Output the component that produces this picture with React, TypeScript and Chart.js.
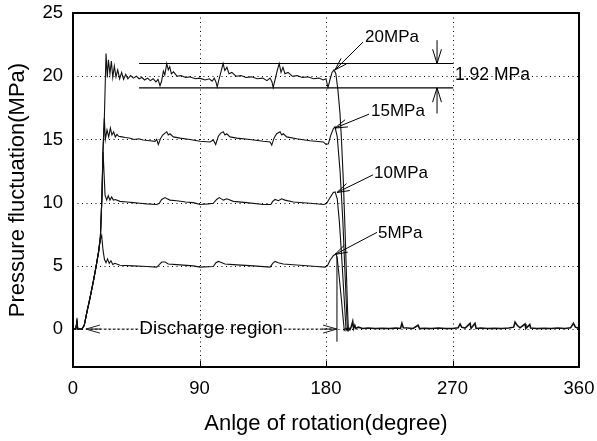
import React, { useEffect, useRef } from 'react';
import { Chart, registerables } from 'chart.js';

Chart.register(...registerables);

const FONT = '"Liberation Sans", Arial, Helvetica, sans-serif';

// ---- axes ----
const X_TICKS = [0, 90, 180, 270, 360];
const Y_TICKS = [0, 5, 10, 15, 20, 25];
const X_GRID = [90, 180, 270];
const Y_GRID = [0, 5, 10, 15, 20];
const X_TITLE = 'Anlge of rotation(degree)';
const Y_TITLE = 'Pressure fluctuation(MPa)';

// ---- series: [angle (degree), pressure (MPa)] ----
const CURVE_20MPA: [number, number][] = [
  [0, 0], [2, 0], [2.8, 0.6], [3.4, 0], [6.4, 0], [8, 0.3], [10, 1.4], [12, 2.4], [14.5, 3.8], [16.5, 5.0],
  [18.2, 6.1], [19.5, 7.3], [20.6, 10.5], [21.3, 14.0], [22.3, 16.7], [23.5, 21.8], [24.4, 19.9], [25.2, 21.3],
  [26.3, 20.2], [27.3, 21.2], [28.3, 19.9], [29.4, 20.8], [30.6, 19.95], [31.8, 20.5], [33.2, 19.8], [34.6, 20.3],
  [36, 19.75], [37.5, 20.15], [39, 19.8], [41, 20.05], [43, 19.85], [45, 20.0], [47, 19.8], [49, 19.9], [51, 19.7],
  [53, 19.85], [55, 19.65], [57, 19.8], [59, 19.55], [60.5, 19.75], [61.9, 19.25], [63, 19.6], [64.3, 20.4],
  [65.3, 20.1], [66.7, 21.0], [67.8, 20.5], [68.8, 20.75], [70, 20.2], [71.5, 20.35], [74, 20.0], [77, 20.05],
  [80, 19.9], [83, 19.95], [87, 19.8], [90, 19.85], [94, 19.7], [97, 19.8], [99, 19.6], [100.5, 19.85],
  [101.7, 19.55], [102.6, 19.15], [104, 19.8], [105.4, 20.4], [106.8, 21.0], [108, 20.45], [109.5, 20.7],
  [111, 20.2], [113, 20.3], [116, 20.0], [119.5, 20.05], [123, 19.9], [127, 19.95], [131, 19.8], [135, 19.85],
  [138, 19.65], [140.2, 19.85], [141.6, 19.55], [142.4, 19.1], [143.8, 19.75], [145.2, 20.4], [146.7, 21.0],
  [148, 20.3], [149.4, 20.7], [150.8, 20.2], [153, 20.3], [156, 20.0], [159.5, 20.05], [163, 19.9], [167, 19.95],
  [171, 19.8], [175, 19.85], [178, 19.7], [180, 19.8], [181.4, 19.1], [183, 19.8], [184.3, 20.3], [185.7, 20.5],
  [187, 20.2], [188.5, 18.9], [190, 17], [191, 15], [192.3, 11.8], [193.5, 8], [194.5, 4.5], [195.5, 1],
  [196, -0.1], [197, 0.1],
];

const CURVE_15MPA: [number, number][] = [
  [0, 0], [2, 0], [2.8, 0.6], [3.4, 0], [6.4, 0], [8, 0.3], [10, 1.4], [12, 2.4], [14.5, 3.8], [16.5, 5.0],
  [18.2, 6.1], [19.5, 7.3], [20.6, 10.5], [21.3, 14.0], [22.3, 16.7], [23, 15.0], [24.2, 15.75], [25.4, 15.2],
  [26.6, 15.9], [27.7, 15.35], [28.9, 15.6], [30.1, 15.2], [31.3, 15.4], [32.5, 15.25], [34.9, 15.2], [37.2, 15.15],
  [40.8, 15.1], [43.5, 15.0], [46.7, 15.05], [50, 14.95], [54.8, 14.9], [58.3, 14.85], [59.5, 15.0], [60.7, 14.6],
  [62.4, 15.1], [63.8, 15.35], [65.5, 15.5], [66.7, 15.6], [67.8, 15.35], [69, 15.45], [71.4, 15.2], [76.1, 15.1],
  [83.2, 15.0], [90.4, 14.85], [97.5, 14.8], [99.8, 14.95], [101.5, 14.6], [103.4, 15.25], [105.1, 15.5],
  [106.9, 15.6], [108.1, 15.35], [109.4, 15.45], [111.7, 15.2], [116.5, 15.1], [125.9, 15.0], [135.4, 14.85],
  [140.2, 14.8], [141.4, 14.55], [143, 15.1], [144.9, 15.45], [147.3, 15.6], [148.5, 15.35], [149.6, 15.45],
  [152, 15.2], [159.2, 15.05], [168.6, 14.9], [178.1, 14.8], [180, 14.6], [181.7, 14.65], [183.3, 15.3],
  [185.2, 15.85], [186.4, 16.0], [188, 15.2], [190, 12.5], [192, 8.5], [193.5, 4.5], [194.8, 1], [195.3, -0.1],
  [196.5, 0.1],
];

const CURVE_10MPA: [number, number][] = [
  [0, 0], [2, 0], [2.8, 0.6], [3.4, 0], [6.4, 0], [8, 0.3], [10, 1.4], [12, 2.4], [14.5, 3.8], [16.5, 5.0],
  [18.2, 6.1], [19.5, 7.3], [20.6, 10.5], [21.4, 14.0], [22.8, 10.6], [24, 10.2], [25.1, 10.55], [26.3, 10.2],
  [27.5, 10.45], [28.7, 10.2], [30.1, 10.25], [33.4, 10.1], [38.2, 10.05], [43, 10.0], [47.7, 9.95], [52.4, 9.9],
  [59.5, 9.85], [61.4, 9.95], [63.1, 10.25], [65.5, 10.4], [67, 10.3], [69, 10.2], [73.8, 10.15], [80, 10.05],
  [85.6, 10.0], [90.4, 9.85], [96, 9.9], [99.8, 9.95], [102.2, 10.25], [104.1, 10.4], [105.5, 10.3], [107, 10.2],
  [109.4, 10.3], [114.1, 10.1], [123.6, 10.0], [135.4, 9.85], [140.7, 9.85], [142.1, 10.1], [143.7, 10.25],
  [146.1, 10.15], [148.5, 10.3], [150.8, 10.2], [156.8, 10.05], [168.6, 9.95], [178.6, 9.85], [180.5, 9.95],
  [182.9, 10.4], [185.2, 10.8], [186.5, 10.85], [188, 10.3], [189.5, 8.5], [191, 6], [192.5, 3.2], [193.8, 0.8],
  [194.3, -0.1], [195.5, 0.1],
];

const CURVE_5MPA: [number, number][] = [
  [0, 0], [2, 0], [2.8, 0.6], [3.4, 0], [6.4, 0], [8, 0.3], [10, 1.4], [12, 2.4], [14.5, 3.8], [16.5, 5.0],
  [18.2, 6.1], [19.5, 7.1], [20.4, 7.4], [21.4, 6.2], [22.4, 5.5], [23.5, 5.25], [24.6, 5.55], [25.8, 5.2],
  [27, 5.4], [28.3, 5.1], [29.8, 5.2], [33.4, 5.05], [42.9, 5.0], [52.4, 4.95], [59.5, 4.9], [61.4, 5.1],
  [63.1, 5.3], [65.5, 5.3], [67.8, 5.15], [73.8, 5.1], [85.6, 5.0], [90.4, 4.9], [99.8, 4.95], [101.7, 5.25],
  [103.4, 5.35], [104.6, 5.3], [108.1, 5.15], [114.1, 5.1], [128.3, 5.0], [140.2, 4.9], [142.1, 5.2],
  [143.7, 5.35], [146.1, 5.25], [149.6, 5.15], [161.5, 5.05], [173.4, 4.95], [179.3, 4.9], [181, 5.0],
  [182.9, 5.45], [185.2, 5.8], [187.1, 5.95], [188, 5.6], [189.5, 4.0], [191, 2.3], [192.3, 0.7], [193, -0.1],
  [194, 0.05],
];

// residual pressure after discharge (all curves overlap)
const CURVE_RESIDUAL: [number, number][] = [
  [194, 0.05], [197, -0.05], [198, 0.2], [199, 0.6], [199.6, 0.05], [200.5, 0.3], [201.2, 0.05], [203, 0.15],
  [206, 0.05], [210, 0.08], [215, 0.05], [220, 0.07], [225, 0.05], [230, 0.08], [233, 0.05], [234, 0.45],
  [235, 0.1], [238, 0.08], [242, 0.05], [245.5, 0.3], [246.5, 0.05], [250, 0.07], [255, 0.05], [260, 0.08],
  [265, 0.05], [270, 0.05], [274, 0.1], [275.4, 0.4], [276.5, 0.15], [279, 0.08], [282.5, 0.45], [283.2, 0.05],
  [286, 0.45], [286.8, 0.05], [290, 0.08], [295, 0.05], [300, 0.07], [305, 0.05], [310, 0.08], [313.5, 0.15],
  [314.5, 0.55], [316, 0.3], [318, 0.1], [321.6, 0.4], [322.2, 0.05], [325, 0.35], [325.6, 0.08], [330, 0.05],
  [335, 0.07], [340, 0.05], [345, 0.08], [350, 0.05], [354, 0.1], [356, 0.45], [357.5, 0.15], [360, 0.05],
];

// ---- annotations (data coordinates) ----
const BAND_UPPER = 21.0;
const BAND_LOWER = 19.08;
const BAND_FROM = 47;
const BAND_TO = 270.5;
const BAND_ARROW_X = 259;
const BAND_ARROW_TOP = 22.85;
const BAND_ARROW_BOTTOM = 17.05;
const BAND_TEXT = '1.92 MPa';
const BAND_TEXT_POS: [number, number] = [271.8, 20.1];

const PEAK_LABELS = [
  { text: '20MPa', at: [207.8, 23.1], from: [206.3, 22.7], to: [186.4, 20.5] },
  { text: '15MPa', at: [212, 17.25], from: [210.6, 17.0], to: [186.4, 15.9] },
  { text: '10MPa', at: [214.2, 12.3], from: [213.5, 12.2], to: [187.8, 10.8] },
  { text: '5MPa', at: [217, 7.55], from: [216.3, 7.65], to: [186.4, 5.9] },
];

const REGION_TEXT = 'Discharge region';
const REGION_CENTER = 98.2;
const REGION_START = 9.2;
const REGION_END = 187.8;
const MARKER_X = 187.8;
const MARKER_TOP = 5.75;
const MARKER_BOTTOM = -1.0;

function arrowLine(ctx: CanvasRenderingContext2D, x1: number, y1: number, x2: number, y2: number, len: number, spread: number) {
  const ang = Math.atan2(y2 - y1, x2 - x1);
  ctx.beginPath();
  ctx.moveTo(x1, y1);
  ctx.lineTo(x2, y2);
  ctx.moveTo(x2 - len * Math.cos(ang - spread), y2 - len * Math.sin(ang - spread));
  ctx.lineTo(x2, y2);
  ctx.lineTo(x2 - len * Math.cos(ang + spread), y2 - len * Math.sin(ang + spread));
  ctx.stroke();
}

const decorations = {
  id: 'decorations',
  beforeDatasetsDraw(chart: any) {
    const { ctx, chartArea: a, scales } = chart;
    const x = scales.x;
    const y = scales.y;
    ctx.save();
    ctx.strokeStyle = '#000';
    ctx.lineWidth = 1;
    ctx.setLineDash([1, 3.5]);
    for (const v of Y_GRID) {
      const py = Math.round(y.getPixelForValue(v)) + 0.5;
      ctx.beginPath();
      ctx.moveTo(a.left, py);
      ctx.lineTo(a.right, py);
      ctx.stroke();
    }
    for (const v of X_GRID) {
      const px = Math.round(x.getPixelForValue(v)) + 0.5;
      ctx.beginPath();
      ctx.moveTo(px, a.top);
      ctx.lineTo(px, a.bottom);
      ctx.stroke();
    }
    ctx.setLineDash([]);
    for (const v of X_GRID) {
      const px = Math.round(x.getPixelForValue(v)) + 0.5;
      ctx.beginPath();
      ctx.moveTo(px, a.bottom);
      ctx.lineTo(px, a.bottom - 6);
      ctx.stroke();
    }
    ctx.restore();
  },
  afterDatasetsDraw(chart: any) {
    const { ctx, chartArea: a, scales } = chart;
    const X = (v: number) => scales.x.getPixelForValue(v);
    const Y = (v: number) => scales.y.getPixelForValue(v);
    ctx.save();
    ctx.strokeStyle = '#000';
    ctx.fillStyle = '#000';
    ctx.lineWidth = 1.1;

    // band lines
    for (const v of [BAND_UPPER, BAND_LOWER]) {
      ctx.beginPath();
      ctx.moveTo(X(BAND_FROM), Y(v));
      ctx.lineTo(X(BAND_TO), Y(v));
      ctx.stroke();
    }
    ctx.lineWidth = 1;
    arrowLine(ctx, X(BAND_ARROW_X), Y(BAND_ARROW_TOP), X(BAND_ARROW_X), Y(BAND_UPPER), 15, 0.3);
    arrowLine(ctx, X(BAND_ARROW_X), Y(BAND_ARROW_BOTTOM), X(BAND_ARROW_X), Y(BAND_LOWER), 15, 0.3);
    ctx.font = `17.5px ${FONT}`;
    ctx.textAlign = 'left';
    ctx.textBaseline = 'middle';
    ctx.fillText(BAND_TEXT, X(BAND_TEXT_POS[0]), Y(BAND_TEXT_POS[1]));

    // peak labels
    ctx.font = `17px ${FONT}`;
    for (const l of PEAK_LABELS) {
      ctx.fillText(l.text, X(l.at[0]), Y(l.at[1]));
      arrowLine(ctx, X(l.from[0]), Y(l.from[1]), X(l.to[0]), Y(l.to[1]), 13, 0.3);
    }

    // discharge region
    ctx.font = `19px ${FONT}`;
    ctx.textAlign = 'center';
    const cx = X(REGION_CENTER);
    const cy = Y(0);
    ctx.fillText(REGION_TEXT, cx, cy);
    const w = ctx.measureText(REGION_TEXT).width;
    ctx.strokeStyle = '#222';
    ctx.setLineDash([3, 1.5]);
    ctx.beginPath();
    ctx.moveTo(cx - w / 2 - 1, cy);
    ctx.lineTo(X(REGION_START), cy);
    ctx.moveTo(cx + w / 2 + 1, cy);
    ctx.lineTo(X(REGION_END), cy);
    ctx.stroke();
    ctx.setLineDash([]);
    arrowLine(ctx, X(REGION_START) + 15, cy, X(REGION_START), cy, 14.5, 0.28);
    arrowLine(ctx, X(REGION_END) - 15, cy, X(REGION_END), cy, 14.5, 0.28);

    // end-of-discharge marker
    ctx.strokeStyle = '#000';
    ctx.beginPath();
    ctx.moveTo(X(MARKER_X), Y(MARKER_TOP));
    ctx.lineTo(X(MARKER_X), Y(MARKER_BOTTOM));
    ctx.stroke();

    // frame
    ctx.lineWidth = 2;
    ctx.strokeRect(a.left, a.top, a.right - a.left, a.bottom - a.top);
    ctx.restore();
  },
};

const toPoints = (pairs: [number, number][]) => pairs.map(([x, y]) => ({ x, y }));

const line = (data: [number, number][], width: number) => ({
  data: toPoints(data),
  borderColor: '#111',
  borderWidth: width,
  pointRadius: 0,
  tension: 0,
  fill: false,
});

export default function App() {
  const ref = useRef<HTMLCanvasElement>(null);
  useEffect(() => {
    document.body.style.margin = '0';
    const chart = new Chart(ref.current as HTMLCanvasElement, {
      type: 'line',
      data: {
        datasets: [
          line(CURVE_20MPA, 1.1),
          line(CURVE_15MPA, 1.1),
          line(CURVE_10MPA, 1.1),
          line(CURVE_5MPA, 1.1),
          line(CURVE_RESIDUAL, 1.6),
        ],
      },
      options: {
        responsive: false,
        animation: false,
        layout: { padding: { left: 0, top: 13, right: 18, bottom: 0 } },
        plugins: { legend: { display: false }, tooltip: { enabled: false } },
        scales: {
          x: {
            type: 'linear',
            min: 0,
            max: 360,
            afterBuildTicks: (s: any) => { s.ticks = X_TICKS.map((v) => ({ value: v })); },
            afterFit: (s: any) => { s.height = 74; s.paddingLeft = 0; s.paddingRight = 0; },
            grid: { display: false, drawTicks: false },
            border: { display: false },
            ticks: { color: '#000', padding: 11, font: { family: FONT, size: 18.5 } },
            title: { display: true, text: X_TITLE, color: '#000', font: { family: FONT, size: 22 }, padding: { top: 0, bottom: 4 } },
          },
          y: {
            type: 'linear',
            min: -3,
            max: 25,
            afterBuildTicks: (s: any) => { s.ticks = Y_TICKS.map((v) => ({ value: v })); },
            afterFit: (s: any) => { s.width = 73; s.paddingTop = 0; s.paddingBottom = 0; },
            grid: { display: false, drawTicks: false },
            border: { display: false },
            ticks: { color: '#000', padding: 10, font: { family: FONT, size: 18.5 } },
            title: { display: true, text: Y_TITLE, color: '#000', font: { family: FONT, size: 22 }, padding: { top: 5, bottom: 0 } },
          },
        },
      },
      plugins: [decorations],
    } as any);
    return () => chart.destroy();
  }, []);
  return (
    <div style={{ width: 597, height: 441 }}>
      <canvas ref={ref} width={597} height={441} style={{ display: 'block' }} />
    </div>
  );
}
